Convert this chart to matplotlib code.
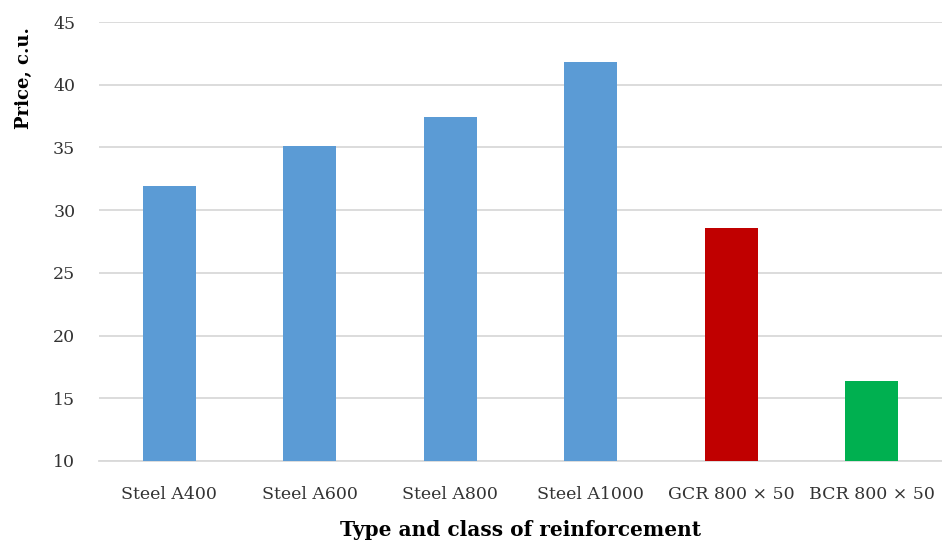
import matplotlib.pyplot as plt
import numpy as np

# Price per reinforcement type
categories = ['Steel A400', 'Steel A600', 'Steel A800', 'Steel A1000', 'GCR 800 × 50', 'BCR 800 × 50']
prices = [31.9, 35.1, 37.4, 41.8, 28.6, 16.4]
bar_colors = ['#5B9BD5', '#5B9BD5', '#5B9BD5', '#5B9BD5', '#C00000', '#00B050']
y_ticks = [10, 15, 20, 25, 30, 35, 40, 45]

plt.rcParams['font.family'] = ['DejaVu Serif']

fig = plt.figure(figsize=(9.42, 5.49), dpi=100)
ax = fig.add_axes([0.105, 0.1603, 0.895, 0.7996])

x = np.arange(len(categories))
ax.bar(x, [p - 10 for p in prices], bottom=10, width=0.375, color=bar_colors, zorder=3)

ax.set_ylim(10, 45)
ax.set_xlim(-0.5, len(categories) - 0.5)
ax.set_yticks(y_ticks)
ax.set_xticks(x)
ax.set_xticklabels(categories)
ax.grid(axis='y', color='#D9D9D9', linewidth=1.3, zorder=0)

for side in ['top', 'right', 'left']:
    ax.spines[side].set_visible(False)
ax.spines['bottom'].set_color('#D9D9D9')
ax.spines['bottom'].set_linewidth(1.3)

ax.tick_params(axis='both', length=0, labelsize=12.5, colors='#333333')
ax.tick_params(axis='x', pad=18)
ax.tick_params(axis='y', pad=17)

ax.set_xlabel('Type and class of reinforcement', fontsize=14.5, fontweight='bold', color='black')
ax.xaxis.set_label_coords(0.5, -0.135)
ax.set_ylabel('Price, c.u.', fontsize=13, fontweight='bold', color='black')
ax.yaxis.set_label_coords(-0.078, 0.872)

fig.savefig('out.png', dpi=100)
